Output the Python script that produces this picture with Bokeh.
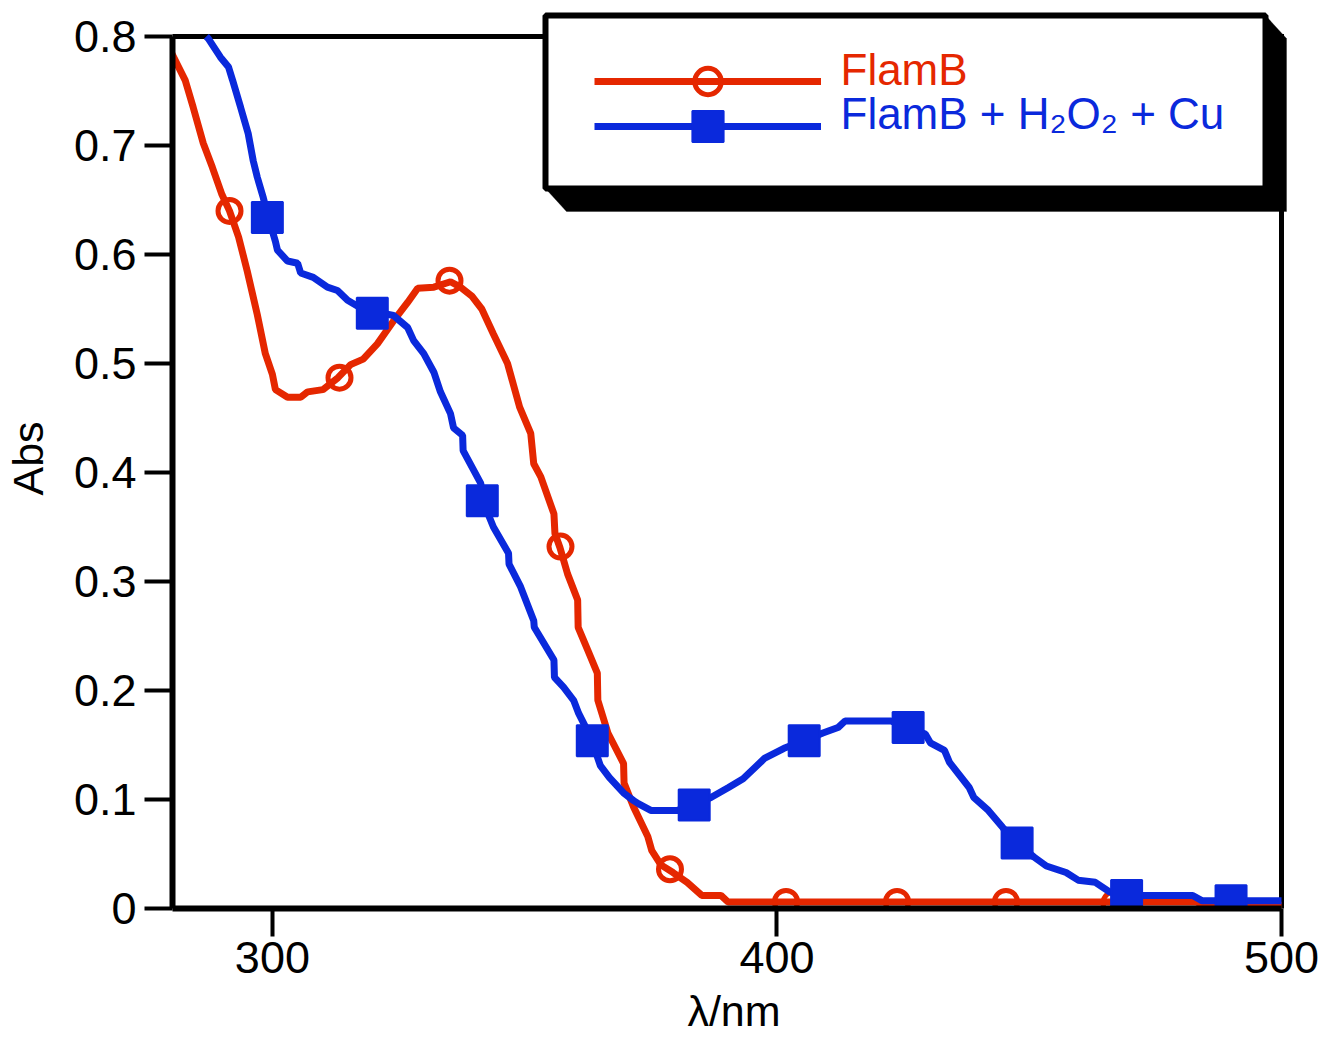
from bokeh.plotting import figure
from bokeh.models import (Range1d, FixedTicker, Legend, LegendItem,
                          BoxAnnotation, PolyAnnotation, Label)
from bokeh.embed import file_html
from bokeh.resources import INLINE

# ---------------- data ----------------
wl_flamb = [280.0, 282.7, 284.3, 286.3, 288.1, 290.0, 291.5, 293.3, 295.0, 297.0,
            298.6, 300.0, 300.6, 303.0, 305.6, 307.0, 310.0, 313.0, 315.5, 318.0,
            320.8, 324.0, 326.8, 328.8, 332.0, 335.3, 337.3, 339.5, 341.5, 343.8,
            346.6, 349.0, 351.2, 351.8, 353.2, 355.8, 356.0, 357.0, 358.5, 360.5,
            360.6, 362.5, 364.4, 364.5, 366.5, 369.6, 369.7, 371.6, 374.4, 375.2,
            377.0, 379.4, 382.2, 385.1, 388.9, 390.3, 483.0, 485.0, 500.0]
abs_flamb = [0.785, 0.760, 0.735, 0.702, 0.680, 0.655, 0.640, 0.616, 0.585, 0.545,
             0.509, 0.490, 0.476, 0.469, 0.469, 0.474, 0.476, 0.487, 0.499, 0.504,
             0.518, 0.539, 0.556, 0.569, 0.570, 0.575, 0.570, 0.562, 0.550, 0.527,
             0.500, 0.460, 0.436, 0.408, 0.396, 0.362, 0.344, 0.331, 0.307, 0.283,
             0.258, 0.237, 0.216, 0.191, 0.161, 0.133, 0.115, 0.093, 0.066, 0.053,
             0.040, 0.033, 0.024, 0.012, 0.012, 0.006, 0.006, 0.003, 0.003]
wl_flamb_marks = [291.5, 313.3, 335.1, 357.1, 378.8, 401.8, 423.8, 445.4, 466.9, 489.1]
abs_flamb_marks = [0.640, 0.487, 0.576, 0.332, 0.036, 0.006, 0.006, 0.006, 0.005, 0.003]

wl_cu = [286.9, 287.3, 289.7, 291.3, 292.1, 293.7, 295.2, 296.2, 297.0, 298.2,
         299.2, 300.6, 301.0, 303.0, 305.0, 305.6, 308.1, 310.9, 312.9, 314.9,
         317.5, 319.8, 322.0, 324.0, 326.8, 328.0, 330.0, 332.0, 333.3, 335.3,
         335.9, 337.7, 337.8, 341.3, 341.7, 343.8, 346.8, 346.9, 349.2, 351.8,
         351.9, 355.8, 355.9, 357.7, 359.7, 360.7, 363.1, 365.0, 366.8, 369.6,
         371.6, 372.6, 375.0, 380.3, 383.6, 387.0, 390.4, 393.3, 397.6, 401.4,
         405.4, 409.1, 412.1, 413.5, 422.6, 426.0, 429.4, 430.4, 433.2, 434.2,
         438.1, 439.0, 441.9, 444.8, 447.6, 451.0, 453.4, 457.3, 459.7, 463.1,
         466.0, 469.3, 482.4, 484.3, 500.0]
abs_cu = [0.800, 0.798, 0.781, 0.772, 0.760, 0.735, 0.711, 0.686, 0.671, 0.652,
          0.634, 0.612, 0.604, 0.594, 0.592, 0.583, 0.579, 0.570, 0.567, 0.558,
          0.551, 0.546, 0.546, 0.544, 0.533, 0.521, 0.509, 0.492, 0.474, 0.454,
          0.441, 0.434, 0.420, 0.390, 0.374, 0.350, 0.326, 0.316, 0.295, 0.264,
          0.258, 0.228, 0.212, 0.203, 0.191, 0.179, 0.157, 0.131, 0.120, 0.106,
          0.099, 0.096, 0.090, 0.090, 0.095, 0.102, 0.111, 0.119, 0.138, 0.147,
          0.154, 0.161, 0.166, 0.172, 0.172, 0.166, 0.160, 0.152, 0.145, 0.134,
          0.111, 0.102, 0.090, 0.074, 0.060, 0.047, 0.039, 0.033, 0.026, 0.024,
          0.015, 0.012, 0.012, 0.007, 0.007]
wl_cu_marks = [299.0, 319.8, 341.6, 363.4, 383.6, 405.4, 426.0, 447.6, 469.3, 490.0]
abs_cu_marks = [0.634, 0.546, 0.374, 0.154, 0.095, 0.154, 0.166, 0.060, 0.012, 0.007]

x_ticks = [300, 400, 500]
y_ticks = [0, 0.1, 0.2, 0.3, 0.4, 0.5, 0.6, 0.7, 0.8]
x_axis_min, x_axis_max = 280.2, 500
y_axis_min, y_axis_max = 0, 0.8
label_flamb = "FlamB"
label_cu = "FlamB + H\u2082O\u2082 + Cu"
x_label = "\u03bb/nm"
y_label = "Abs"

# ---------------- style / layout ----------------
FONT = "Liberation Sans"
RED = "#e52700"
BLUE = "#0a29dc"
W, H = 1321, 1038
FRAME_L, FRAME_R, FRAME_T, FRAME_B = 172, 1295, 8, 908   # drawing area (px)
AX_R, AX_T = 1281, 36                                     # visible box edges (px)
px_x = (AX_R - FRAME_L) / (x_axis_max - x_axis_min)
px_y = (FRAME_B - AX_T) / (y_axis_max - y_axis_min)
x_end = x_axis_max + (FRAME_R - AX_R) / px_x
y_end = y_axis_max + (AX_T - FRAME_T) / px_y

p = figure(width=W, height=H, output_backend="svg", toolbar_location=None,
           tools="", x_range=Range1d(x_axis_min, x_end),
           y_range=Range1d(y_axis_min, y_end),
           min_border_left=FRAME_L, min_border_right=W - FRAME_R,
           min_border_top=FRAME_T, min_border_bottom=H - FRAME_B,
           background_fill_color="white", border_fill_color="white")
p.grid.visible = False
p.outline_line_color = None

for ax in (p.xaxis[0], p.yaxis[0]):
    ax.axis_line_width = 6
    ax.axis_line_color = "black"
    ax.major_tick_out = 28
    ax.major_tick_in = 0
    ax.major_tick_line_width = 4
    ax.minor_tick_line_color = None
    ax.major_label_text_font = FONT
    ax.major_label_text_font_size = "45px"
    ax.major_label_text_color = "black"
    ax.axis_label_text_font = FONT
    ax.axis_label_text_font_size = "43px"
    ax.axis_label_text_font_style = "normal"
    ax.axis_label_text_color = "black"

p.xaxis.bounds = (x_axis_min, x_axis_max)
p.yaxis.bounds = (y_axis_min, y_axis_max)
p.xaxis.ticker = FixedTicker(ticks=x_ticks, minor_ticks=[])
p.yaxis.ticker = FixedTicker(ticks=y_ticks, minor_ticks=[])
p.yaxis.major_label_overrides = {0: "0"}
p.xaxis.axis_label = x_label
p.yaxis.axis_label = y_label
p.xaxis.major_label_standoff = 5
p.yaxis.major_label_standoff = 8
p.xaxis.axis_label_standoff = 11
p.yaxis.axis_label_standoff = 19

# top and right edges of the box
p.segment(x0=[x_axis_min, x_axis_max], y0=[y_axis_max, y_axis_min],
          x1=[x_axis_max, x_axis_max], y1=[y_axis_max, y_axis_max],
          line_color="black", line_width=5, line_cap="square")

LW = 7
r_line = p.line(wl_flamb, abs_flamb, line_color=RED, line_width=LW)
r_pts = p.scatter(wl_flamb_marks, abs_flamb_marks, marker="circle", size=23,
                  fill_color=None, line_color=RED, line_width=5)
b_line = p.line(wl_cu, abs_cu, line_color=BLUE, line_width=LW)
b_pts = p.scatter(wl_cu_marks, abs_cu_marks, marker="square", size=31,
                  fill_color=BLUE, line_color=BLUE, line_width=2)

# legend frame with extruded shadow (screen px, relative to frame bottom-left)
def fx(px):
    return px - FRAME_L

def fy(py):
    return FRAME_B - py

L, R, T, B = fx(545), fx(1265), fy(15), fy(188)
DX, DY = 21, 23
shadow = PolyAnnotation(xs=[L, L + DX, R + DX, R + DX, R], ys=[B, B - DY, B - DY, T - DY, T],
                        xs_units="screen", ys_units="screen",
                        fill_color="black", fill_alpha=1, line_color="black", line_width=1)
box = BoxAnnotation(left=L, right=R, top=T, bottom=B,
                    left_units="screen", right_units="screen",
                    top_units="screen", bottom_units="screen",
                    fill_color="white", fill_alpha=1, line_color="black",
                    line_width=6, line_alpha=1)
p.add_layout(shadow)
p.add_layout(box)

common = dict(padding=0, margin=0, spacing=0, glyph_width=227, label_standoff=0,
              label_text_font_size="4px", background_fill_alpha=0, border_line_alpha=0)
leg1 = Legend(items=[LegendItem(label=" ", renderers=[r_line, r_pts])],
              location=(fx(594), fy(81 + 33)), glyph_height=66, label_height=66, **common)
leg2 = Legend(items=[LegendItem(label=" ", renderers=[b_line, b_pts])],
              location=(fx(594), fy(126 + 39)), glyph_height=78, label_height=78, **common)
p.add_layout(leg1)
p.add_layout(leg2)

for txt, col, base in ((label_flamb, RED, 69), (label_cu, BLUE, 113)):
    p.add_layout(Label(x=fx(840), y=fy(base), x_units="screen", y_units="screen",
                       text=txt, text_color=col, text_font=FONT,
                       text_font_size="44px", text_align="left",
                       text_baseline="alphabetic"))

open("out.html", "w").write(file_html(p, INLINE))
